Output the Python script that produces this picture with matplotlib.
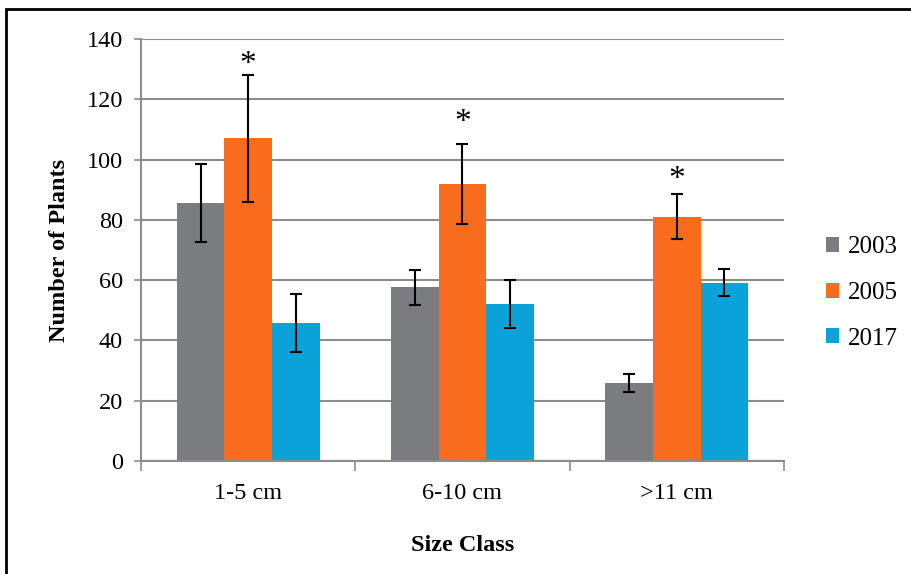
import numpy as np
import matplotlib
matplotlib.use("Agg")
import matplotlib.pyplot as plt
from matplotlib.patches import Rectangle

# values
size_classes = ["1-5 cm", "6-10 cm", ">11 cm"]
years = ["2003", "2005", "2017"]
means = {
    "2003": [85.7, 57.6, 25.8],
    "2005": [107.1, 91.9, 81.0],
    "2017": [45.9, 52.1, 59.2],
}
errors = {
    "2003": [12.9, 5.8, 3.0],
    "2005": [21.1, 13.2, 7.5],
    "2017": [9.6, 8.0, 4.4],
}
star_y = [131.3, 112.3, 93.3]
colors = {"2003": "#7B7C80", "2005": "#F96C1D", "2017": "#0AA2D9"}

plt.rcParams["font.family"] = ["Liberation Serif", "DejaVu Serif"]

fig = plt.figure(figsize=(9.12, 5.74), dpi=100)
ax = fig.add_axes([0.1546, 0.1969, 0.7050, 0.7352])

x = np.arange(len(size_classes))
w = 1 / 4.5
for i, yr in enumerate(years):
    ax.bar(x + (i - 1) * w, means[yr], w, color=colors[yr], label=yr, zorder=2)
    ax.errorbar(x + (i - 1) * w, means[yr], yerr=errors[yr], fmt="none",
                ecolor="black", elinewidth=1.5, capsize=4.5, capthick=1.5, zorder=3)

# significance markers
for xi, sy in zip(x, star_y):
    ax.text(xi, sy, "*", ha="center", va="center", fontsize=24)

ax.set_ylim(0, 140)
ax.set_xlim(-0.5, 2.5)
ax.set_yticks(range(0, 141, 20))
ax.yaxis.grid(True, color="#8C8C8C", linewidth=1.5, zorder=0)
ax.set_axisbelow(True)

ax.set_xticks(x)
ax.set_xticklabels(size_classes)
ax.set_xticks([-0.5, 0.5, 1.5, 2.5], minor=True)
ax.tick_params(axis="x", which="major", length=0, pad=16, labelsize=17.5)
ax.tick_params(axis="x", which="minor", length=7, width=1.2, color="#8C8C8C", direction="out")
ax.tick_params(axis="y", length=5, width=1.2, color="#8C8C8C", pad=8, labelsize=17.5)

for s in ["top", "right"]:
    ax.spines[s].set_visible(False)
for s in ["left", "bottom"]:
    ax.spines[s].set_color("#8C8C8C")
    ax.spines[s].set_linewidth(1.5)

ax.set_xlabel("Size Class", fontsize=17.5, fontweight="bold", labelpad=22)
ax.set_ylabel("Number of Plants", fontsize=17.5, fontweight="bold", labelpad=12)

ax.legend(loc="center left", bbox_to_anchor=(0.8915, 0.4895), bbox_transform=fig.transFigure,
          frameon=False, fontsize=18, handlelength=0.55, handleheight=0.55,
          handletextpad=0.35, labelspacing=0.95, borderpad=0)

fig.add_artist(Rectangle((6 / 912, -0.1), 1.2, 1.1 - 9 / 574, transform=fig.transFigure,
                         fill=False, edgecolor="black", linewidth=2))

fig.savefig("out.png", dpi=100)
